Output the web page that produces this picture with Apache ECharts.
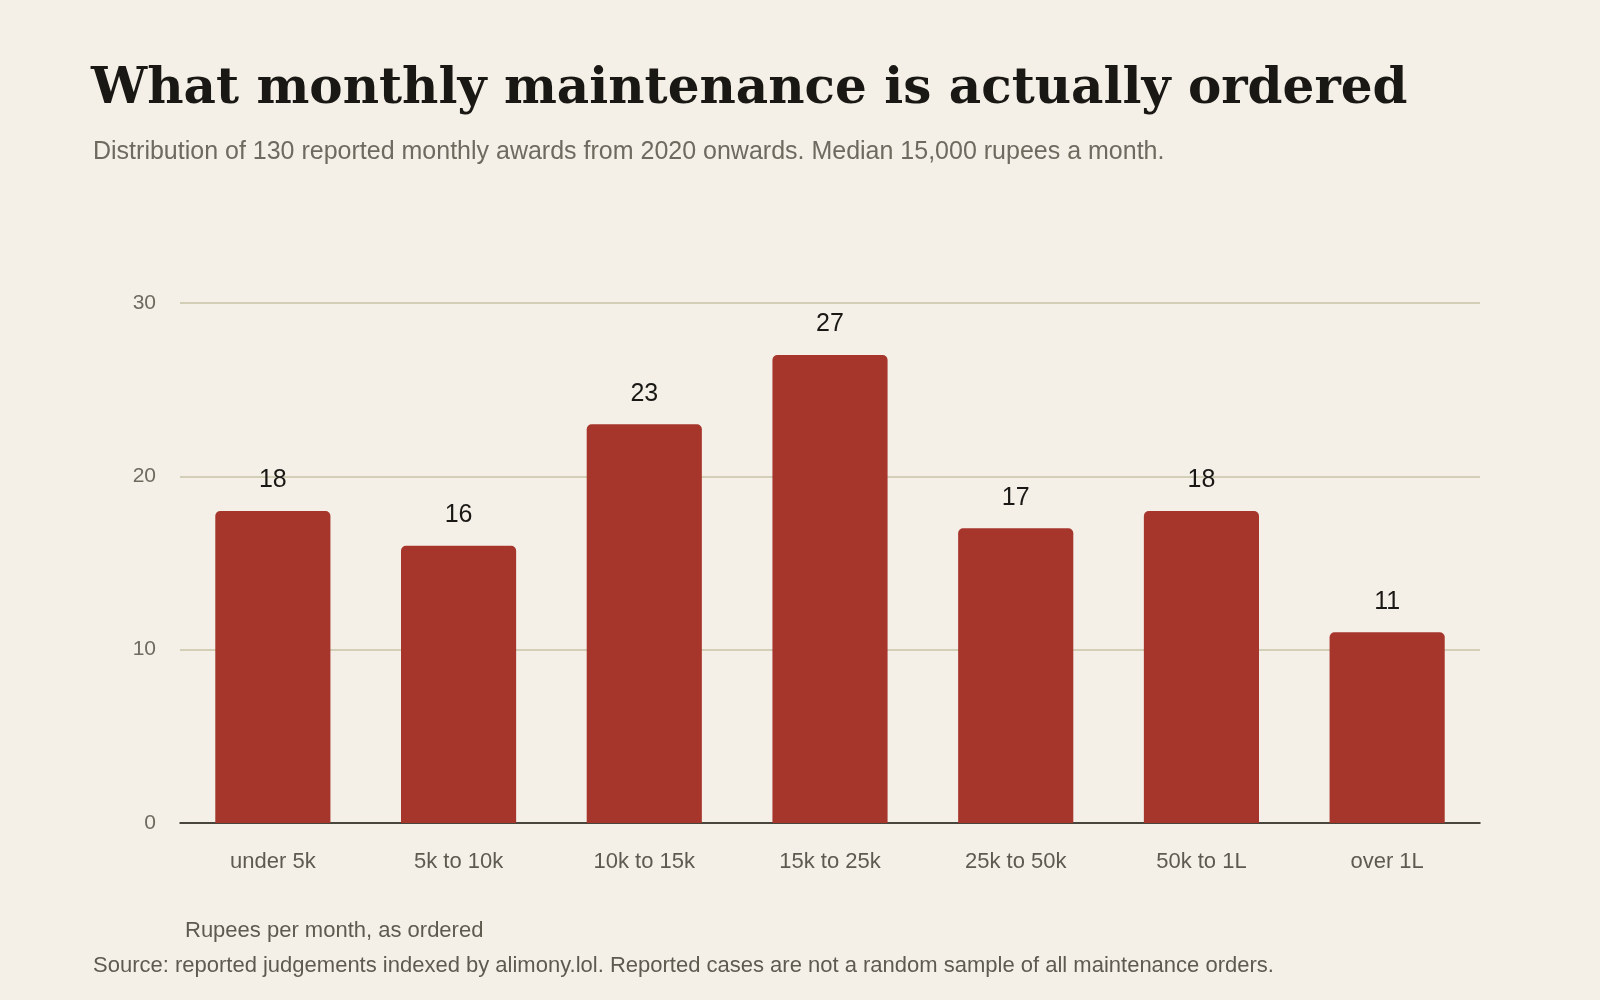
<!DOCTYPE html>
<html>
<head>
<meta charset="utf-8">
<script src="https://cdn.jsdelivr.net/npm/echarts@6/dist/echarts.min.js"></script>
<style>
  html, body { margin: 0; padding: 0; background: #f4f0e8; }
  #chart { width: 1600px; height: 1000px; }
</style>
</head>
<body>
<div id="chart"></div>
<script>
var categories = ['under 5k', '5k to 10k', '10k to 15k', '15k to 25k', '25k to 50k', '50k to 1L', 'over 1L'];
var counts = [18, 16, 23, 27, 17, 18, 11];
var yTicks = [0, 10, 20, 30];

var chart = echarts.init(document.getElementById('chart'));

var option = {
  backgroundColor: '#f4f0e8',
  textStyle: { fontFamily: 'Liberation Sans, Arial, sans-serif' },
  title: [{
    text: 'What monthly maintenance is actually ordered',
    left: 86, top: 60,
    textStyle: { fontFamily: 'DejaVu Serif, Georgia, serif', fontWeight: 'bold', fontSize: 50, color: '#1a1814' }
  }, {
    text: 'Distribution of 130 reported monthly awards from 2020 onwards. Median 15,000 rupees a month.',
    left: 88, top: 135,
    textStyle: { fontSize: 25, fontWeight: 'normal', color: '#6f6a5f' }
  }, {
    text: 'Rupees per month, as ordered',
    left: 180, top: 915,
    textStyle: { fontSize: 22, fontWeight: 'normal', color: '#5f5a50' }
  }, {
    text: 'Source: reported judgements indexed by alimony.lol. Reported cases are not a random sample of all maintenance orders.',
    left: 88, top: 950,
    textStyle: { fontSize: 22, fontWeight: 'normal', color: '#5f5a50' }
  }],
  grid: { left: 180, right: 120, top: 303, bottom: 177 },
  xAxis: {
    type: 'category',
    data: categories,
    axisLine: { lineStyle: { color: '#1a1814', width: 1.5 } },
    axisTick: { show: false },
    axisLabel: { fontSize: 22, color: '#5f5a50', margin: 28 }
  },
  yAxis: {
    type: 'value',
    min: yTicks[0], max: yTicks[yTicks.length - 1], interval: 10,
    axisLine: { show: false },
    axisTick: { show: false },
    axisLabel: { fontSize: 21, color: '#6f6a5f', margin: 24 },
    splitLine: { lineStyle: { color: '#c9c3a6', width: 1.5 } }
  },
  series: [{
    type: 'bar',
    data: counts,
    barWidth: '62%',
    itemStyle: { color: '#a6362c', borderRadius: [5, 5, 0, 0] },
    label: { show: true, position: 'top', distance: 18, fontSize: 25, color: '#1a1814' }
  }]
};
chart.setOption(option);
</script>
</body>
</html>
